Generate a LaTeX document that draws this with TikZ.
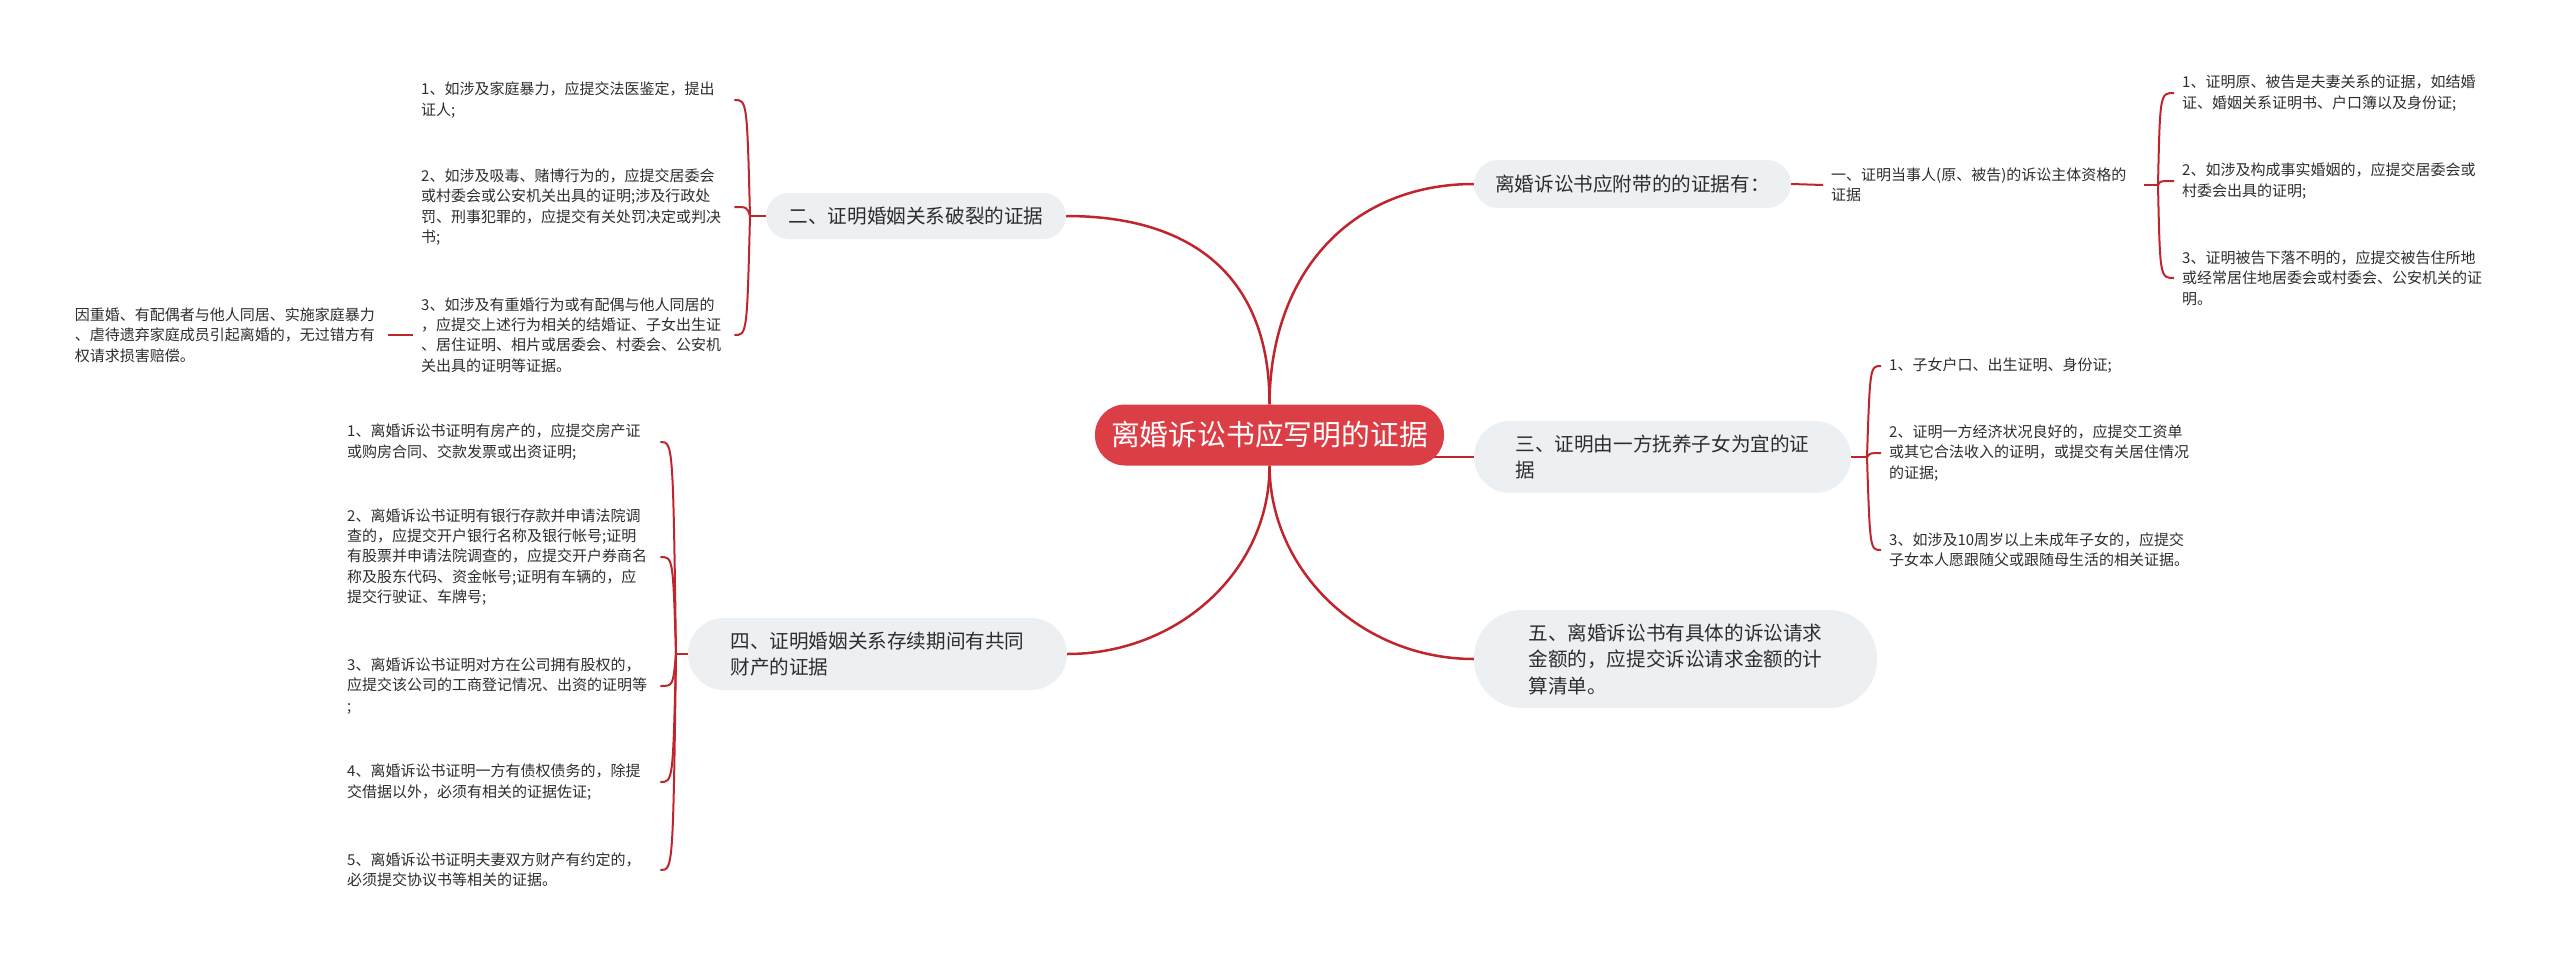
\documentclass[tikz,border=0pt]{standalone}
\usepackage{fontspec}
\setmainfont{Noto Sans CJK SC}
\usetikzlibrary{backgrounds}
\definecolor{rootred}{RGB}{220,62,70}
\definecolor{linered}{RGB}{192,36,44}
\definecolor{pillgray}{RGB}{237,240,243}
\definecolor{txt}{RGB}{45,45,45}
\begin{document}
\begin{tikzpicture}[x=1pt,y=-1pt,
  rootnode/.style={fill=rootred, text=white, rounded corners=30pt, minimum width=349pt, minimum height=61pt, inner sep=0pt, font=\fontsize{28.8}{34}\selectfont},
  pill/.style={fill=pillgray, text=txt, align=left, inner sep=0pt, font=\fontsize{19.6}{26.5}\selectfont},
  leaf/.style={text=txt, align=left, text width=305pt, inner xsep=8pt, inner ysep=2pt, font=\fontsize{15}{20.4}\selectfont},
  mainline/.style={draw=linered, line width=2.5pt},
  subline/.style={draw=linered, line width=2pt},
]
\useasboundingbox (0,0) rectangle (2560,961);

% central and main branches
\node[rootnode] (root) at (1269.5,435) {离婚诉讼书应写明的证据};
\node[pill, minimum width=317pt, minimum height=48pt, rounded corners=24pt] (n1) at (1632.5,184) {离婚诉讼书应附带的的证据有：};
\node[pill, minimum width=300pt, minimum height=46pt, rounded corners=23pt] (n2) at (916,216) {二、证明婚姻关系破裂的证据};
\node[pill, minimum width=377pt, minimum height=72pt, rounded corners=36pt] (n3) at (1662.5,457) {三、证明由一方抚养子女为宜的证\\据};
\node[pill, minimum width=379pt, minimum height=72pt, rounded corners=36pt] (n4) at (877.5,654) {四、证明婚姻关系存续期间有共同\\财产的证据};
\node[pill, minimum width=403pt, minimum height=98pt, rounded corners=48pt] (n5) at (1675.5,659) {五、离婚诉讼书有具体的诉讼请求\\金额的，应提交诉讼请求金额的计\\算清单。};

% branch 1 children
\node[leaf, anchor=west] (t1) at (1823,185) {一、证明当事人(原、被告)的诉讼主体资格的\\证据};
\node[leaf, anchor=west] (a1) at (2174,93) {1、证明原、被告是夫妻关系的证据，如结婚\\证、婚姻关系证明书、户口簿以及身份证;};
\node[leaf, anchor=west] (a2) at (2174,181) {2、如涉及构成事实婚姻的，应提交居委会或\\村委会出具的证明;};
\node[leaf, anchor=west] (a3) at (2174,278) {3、证明被告下落不明的，应提交被告住所地\\或经常居住地居委会或村委会、公安机关的证\\明。};

% branch 2 children
\node[leaf, anchor=west] (b1) at (413,100) {1、如涉及家庭暴力，应提交法医鉴定，提出\\证人;};
\node[leaf, anchor=west] (b2) at (413,207) {2、如涉及吸毒、赌博行为的，应提交居委会\\或村委会或公安机关出具的证明;涉及行政处\\罚、刑事犯罪的，应提交有关处罚决定或判决\\书;};
\node[leaf, anchor=west] (b3) at (413,335) {3、如涉及有重婚行为或有配偶与他人同居的\\，应提交上述行为相关的结婚证、子女出生证\\、居住证明、相片或居委会、村委会、公安机\\关出具的证明等证据。};
\node[leaf, anchor=east] (e1) at (388,335) {因重婚、有配偶者与他人同居、实施家庭暴力\\、虐待遗弃家庭成员引起离婚的，无过错方有\\权请求损害赔偿。};

% branch 3 children
\node[leaf, anchor=west] (c1) at (1881,366) {1、子女户口、出生证明、身份证;};
\node[leaf, anchor=west] (c2) at (1881,453) {2、证明一方经济状况良好的，应提交工资单\\或其它合法收入的证明，或提交有关居住情况\\的证据;};
\node[leaf, anchor=west] (c3) at (1881,550) {3、如涉及10周岁以上未成年子女的，应提交\\子女本人愿跟随父或跟随母生活的相关证据。};

% branch 4 children
\node[leaf, anchor=west] (d1) at (339,442) {1、离婚诉讼书证明有房产的，应提交房产证\\或购房合同、交款发票或出资证明;};
\node[leaf, anchor=west] (d2) at (339,557) {2、离婚诉讼书证明有银行存款并申请法院调\\查的，应提交开户银行名称及银行帐号;证明\\有股票并申请法院调查的，应提交开户券商名\\称及股东代码、资金帐号;证明有车辆的，应\\提交行驶证、车牌号;};
\node[leaf, anchor=west] (d3) at (339,686) {3、离婚诉讼书证明对方在公司拥有股权的，\\应提交该公司的工商登记情况、出资的证明等\\;};
\node[leaf, anchor=west] (d4) at (339,782) {4、离婚诉讼书证明一方有债权债务的，除提\\交借据以外，必须有相关的证据佐证;};
\node[leaf, anchor=west] (d5) at (339,870) {5、离婚诉讼书证明夫妻双方财产有约定的，\\必须提交协议书等相关的证据。};

\coordinate (j1) at (2158,185);
\coordinate (j2) at (750,216);
\coordinate (j3) at (1867,457);
\coordinate (j4) at (676,654);

\begin{scope}[on background layer]
% main connectors
\draw[mainline] (root.north) .. controls (1270,272) and (1352,184) .. (n1.west);
\draw[mainline] (root.north) .. controls (1270,280) and (1196,216) .. (n2.east);
\draw[mainline] (root.center |- n3.west) -- (n3.west);
\draw[mainline] (root.south) .. controls (1270,570) and (1179,654) .. (n4.east);
\draw[mainline] (root.south) .. controls (1270,572) and (1362,659) .. (n5.west);

% branch 1
\draw[subline] (n1.east) -- (t1.west);
\draw[subline] (t1.east) -- (j1);
\draw[subline] (j1) .. controls (2160,93) .. (a1.west);
\draw[subline] (j1) .. controls (2160,181) .. (a2.west);
\draw[subline] (j1) .. controls (2160,278) .. (a3.west);

% branch 2
\draw[subline] (n2.west) -- (j2);
\draw[subline] (j2) .. controls (747,100) .. (b1.east);
\draw[subline] (j2) .. controls (747,207) .. (b2.east);
\draw[subline] (j2) .. controls (747,335) .. (b3.east);
\draw[subline] (b3.west) -- (e1.east);

% branch 3
\draw[subline] (n3.east) -- (j3);
\draw[subline] (j3) .. controls (1870,366) .. (c1.west);
\draw[subline] (j3) .. controls (1870,453) .. (c2.west);
\draw[subline] (j3) .. controls (1870,550) .. (c3.west);

% branch 4
\draw[subline] (n4.west) -- (j4);
\draw[subline] (j4) .. controls (673,442) .. (d1.east);
\draw[subline] (j4) .. controls (673,557) .. (d2.east);
\draw[subline] (j4) .. controls (673,686) .. (d3.east);
\draw[subline] (j4) .. controls (673,782) .. (d4.east);
\draw[subline] (j4) .. controls (673,870) .. (d5.east);
\end{scope}
\end{tikzpicture}
\end{document}
